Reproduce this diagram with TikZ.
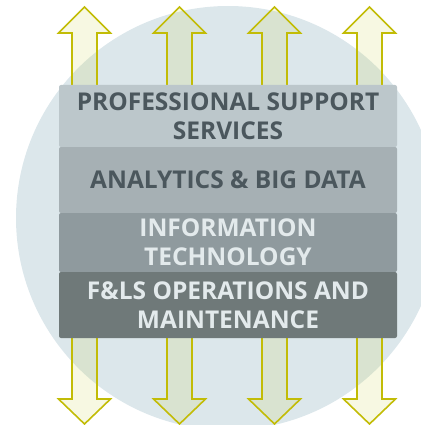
\documentclass[tikz,border=0pt]{standalone}
\usepackage{fontspec}
\setmainfont{Open Sans}
\usepackage{tikz}
\usepackage{xcolor}
\definecolor{disc}{HTML}{DCE7EB}
\definecolor{layerA}{HTML}{BCC7CB}
\definecolor{layerB}{HTML}{A6B0B4}
\definecolor{layerC}{HTML}{8F9A9E}
\definecolor{layerD}{HTML}{6F7979}
\definecolor{darktext}{HTML}{4B575D}
\definecolor{lighttext}{HTML}{E3EAEC}
\definecolor{arrowline}{HTML}{C2BC06}
\definecolor{arrowfill}{HTML}{C8D23C}
\tikzset{
    layer-box/.style = {rectangle, rounded corners=2pt, minimum width=338pt, inner sep=0pt, align=center,
        font=\fontsize{24.5}{29}\selectfont\bfseries},
    flow-arrow/.style = {draw=arrowline, line width=1.6pt, fill=arrowfill, fill opacity=0.15, line join=miter},
}

\begin{document}
\begin{tikzpicture}[x=1pt, y=-1pt]
\useasboundingbox (0,0) rectangle (420,425);
\fill[disc] (228,218) circle (212);

% arrows up and down, behind the stack
\foreach \ax in {84.5, 179.5, 274.5, 369.5}{
    \draw[flow-arrow] (\ax-12.5,100) -- (\ax-12.5,33) -- (\ax-26,33) -- (\ax,7) -- (\ax+26,33) -- (\ax+12.5,33) -- (\ax+12.5,100) -- cycle;
    \draw[flow-arrow] (\ax-12.5,320) -- (\ax-12.5,399) -- (\ax-26,399) -- (\ax,424) -- (\ax+26,399) -- (\ax+12.5,399) -- (\ax+12.5,320) -- cycle;
}

% the four layers
\node [layer-box, fill=layerA, text=darktext, minimum height=62pt] (support) at (228,116) {PROFESSIONAL SUPPORT\\SERVICES};
\node [layer-box, fill=layerB, text=darktext, minimum height=66pt] (analytics) at (228,180) {ANALYTICS \& BIG DATA};
\node [layer-box, fill=layerC, text=lighttext, minimum height=59pt] (it) at (228,242.5) {INFORMATION\\TECHNOLOGY};
\node [layer-box, fill=layerD, text=lighttext, minimum height=66pt] (ops) at (228,305) {F\&LS OPERATIONS AND\\MAINTENANCE};
\end{tikzpicture}
\end{document}
